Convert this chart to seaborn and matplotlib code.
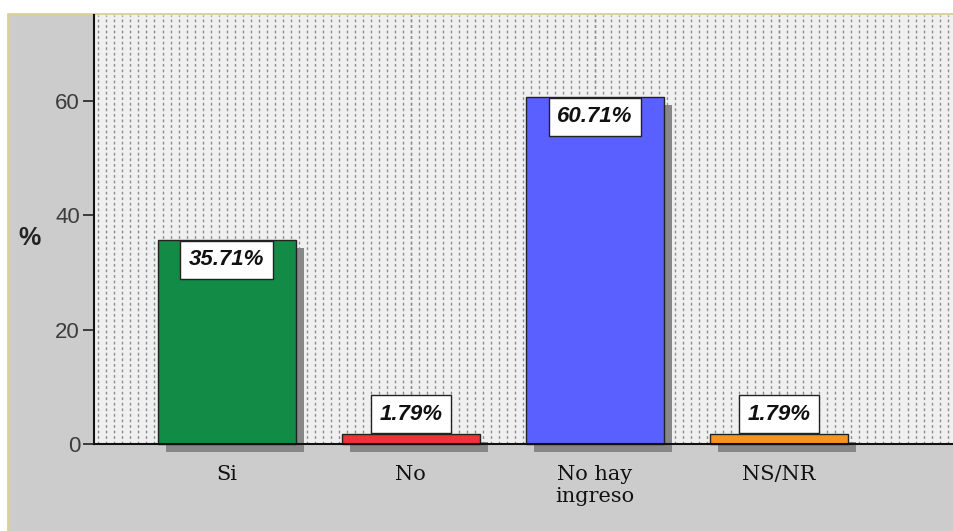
import pandas as pd
import matplotlib
matplotlib.use('Agg')
import matplotlib.pyplot as plt
import matplotlib.patheffects as pe
from matplotlib.patches import Rectangle
from matplotlib.ticker import MultipleLocator
import seaborn as sns

categories = ['Si', 'No', 'No hay\ningreso', 'NS/NR']
percent = [35.71, 1.79, 60.71, 1.79]
bar_colors = ['#118B45', '#F03238', '#5A5FFF', '#F7941D']
value_labels = ['35.71%', '1.79%', '60.71%', '1.79%']

sns.set_style('white')
plt.rcParams['font.family'] = ['Liberation Sans', 'DejaVu Sans']

df = pd.DataFrame({'cat': categories, 'pct': percent})

fig = plt.figure(figsize=(9.54, 5.31), dpi=100)
fig.patch.set_facecolor('white')
# grey chart frame with tan border
fig.patches.append(Rectangle((8 / 954, -0.01), 1.0, (531 - 14) / 531 + 0.01, transform=fig.transFigure,
                             facecolor='#CCCCCC', edgecolor='#D9D09C', linewidth=2, zorder=-5))

ax = fig.add_axes([94 / 954, (531 - 444) / 531, 1 - 94 / 954, (444 - 15) / 531])
ax.set_zorder(2)
ax.set_facecolor('#F0F0F0')

sns.barplot(data=df, x='cat', y='pct', hue='cat', palette=bar_colors, legend=False,
            width=0.75, edgecolor='#222222', linewidth=1, saturation=1, ax=ax)

for bar in ax.patches:
    bar.set_clip_on(False)
    bar.set_path_effects([pe.SimplePatchShadow(offset=(6, -6), shadow_rgbFace='#878787', alpha=1.0), pe.Normal()])

# value boxes: inside the bar when tall, on top when short
box_style = dict(boxstyle='square,pad=0.38', facecolor='white', edgecolor='#222222', linewidth=1)
for bar, val, txt in zip(ax.patches, percent, value_labels):
    cx = bar.get_x() + bar.get_width() / 2
    top = bar.get_height()
    if val > 10:
        ax.annotate(txt, (cx, top), xytext=(0, -7), textcoords='offset points', ha='center', va='top',
                    fontsize=16, fontweight='bold', fontstyle='italic', color='#111111', zorder=5,
                    bbox=box_style)
    else:
        ax.annotate(txt, (cx, top), xytext=(0, 6.5), textcoords='offset points', ha='center', va='bottom',
                    fontsize=16, fontweight='bold', fontstyle='italic', color='#111111', zorder=5,
                    bbox=box_style)

ax.set_xlim(-0.72, 3.95)
ax.set_ylim(0, 75)
ax.set_yticks([0, 20, 40, 60])
ax.tick_params(axis='y', direction='out', length=8, width=1.2, color='#222222', labelsize=16,
               labelcolor='#3C3C3C', left=True, pad=2)
ax.tick_params(axis='x', direction='out', length=3, width=1, color='#555555', pad=12, bottom=True)
for lab in ax.get_xticklabels():
    lab.set_fontfamily('DejaVu Serif')
    lab.set_fontsize(15)
    lab.set_color('#111111')

# dotted background pattern
ax.xaxis.set_minor_locator(MultipleLocator(0.0435))
ax.tick_params(axis='x', which='minor', length=0)
ax.grid(True, which='both', axis='x', color='#8C8C8C', linestyle=(0, (2, 2)), linewidth=1)
ax.set_axisbelow(True)

for side in ['top', 'right']:
    ax.spines[side].set_visible(False)
ax.spines['left'].set_color('#111111')
ax.spines['left'].set_linewidth(1.5)
ax.spines['bottom'].set_color('#111111')
ax.spines['bottom'].set_linewidth(1.5)

ax.set_xlabel('')
ax.set_ylabel('%', rotation=0, fontsize=18, fontweight='bold', color='#222222', va='center')
ax.yaxis.set_label_coords(-0.075, 0.48)

fig.savefig('out.png', dpi=100)
